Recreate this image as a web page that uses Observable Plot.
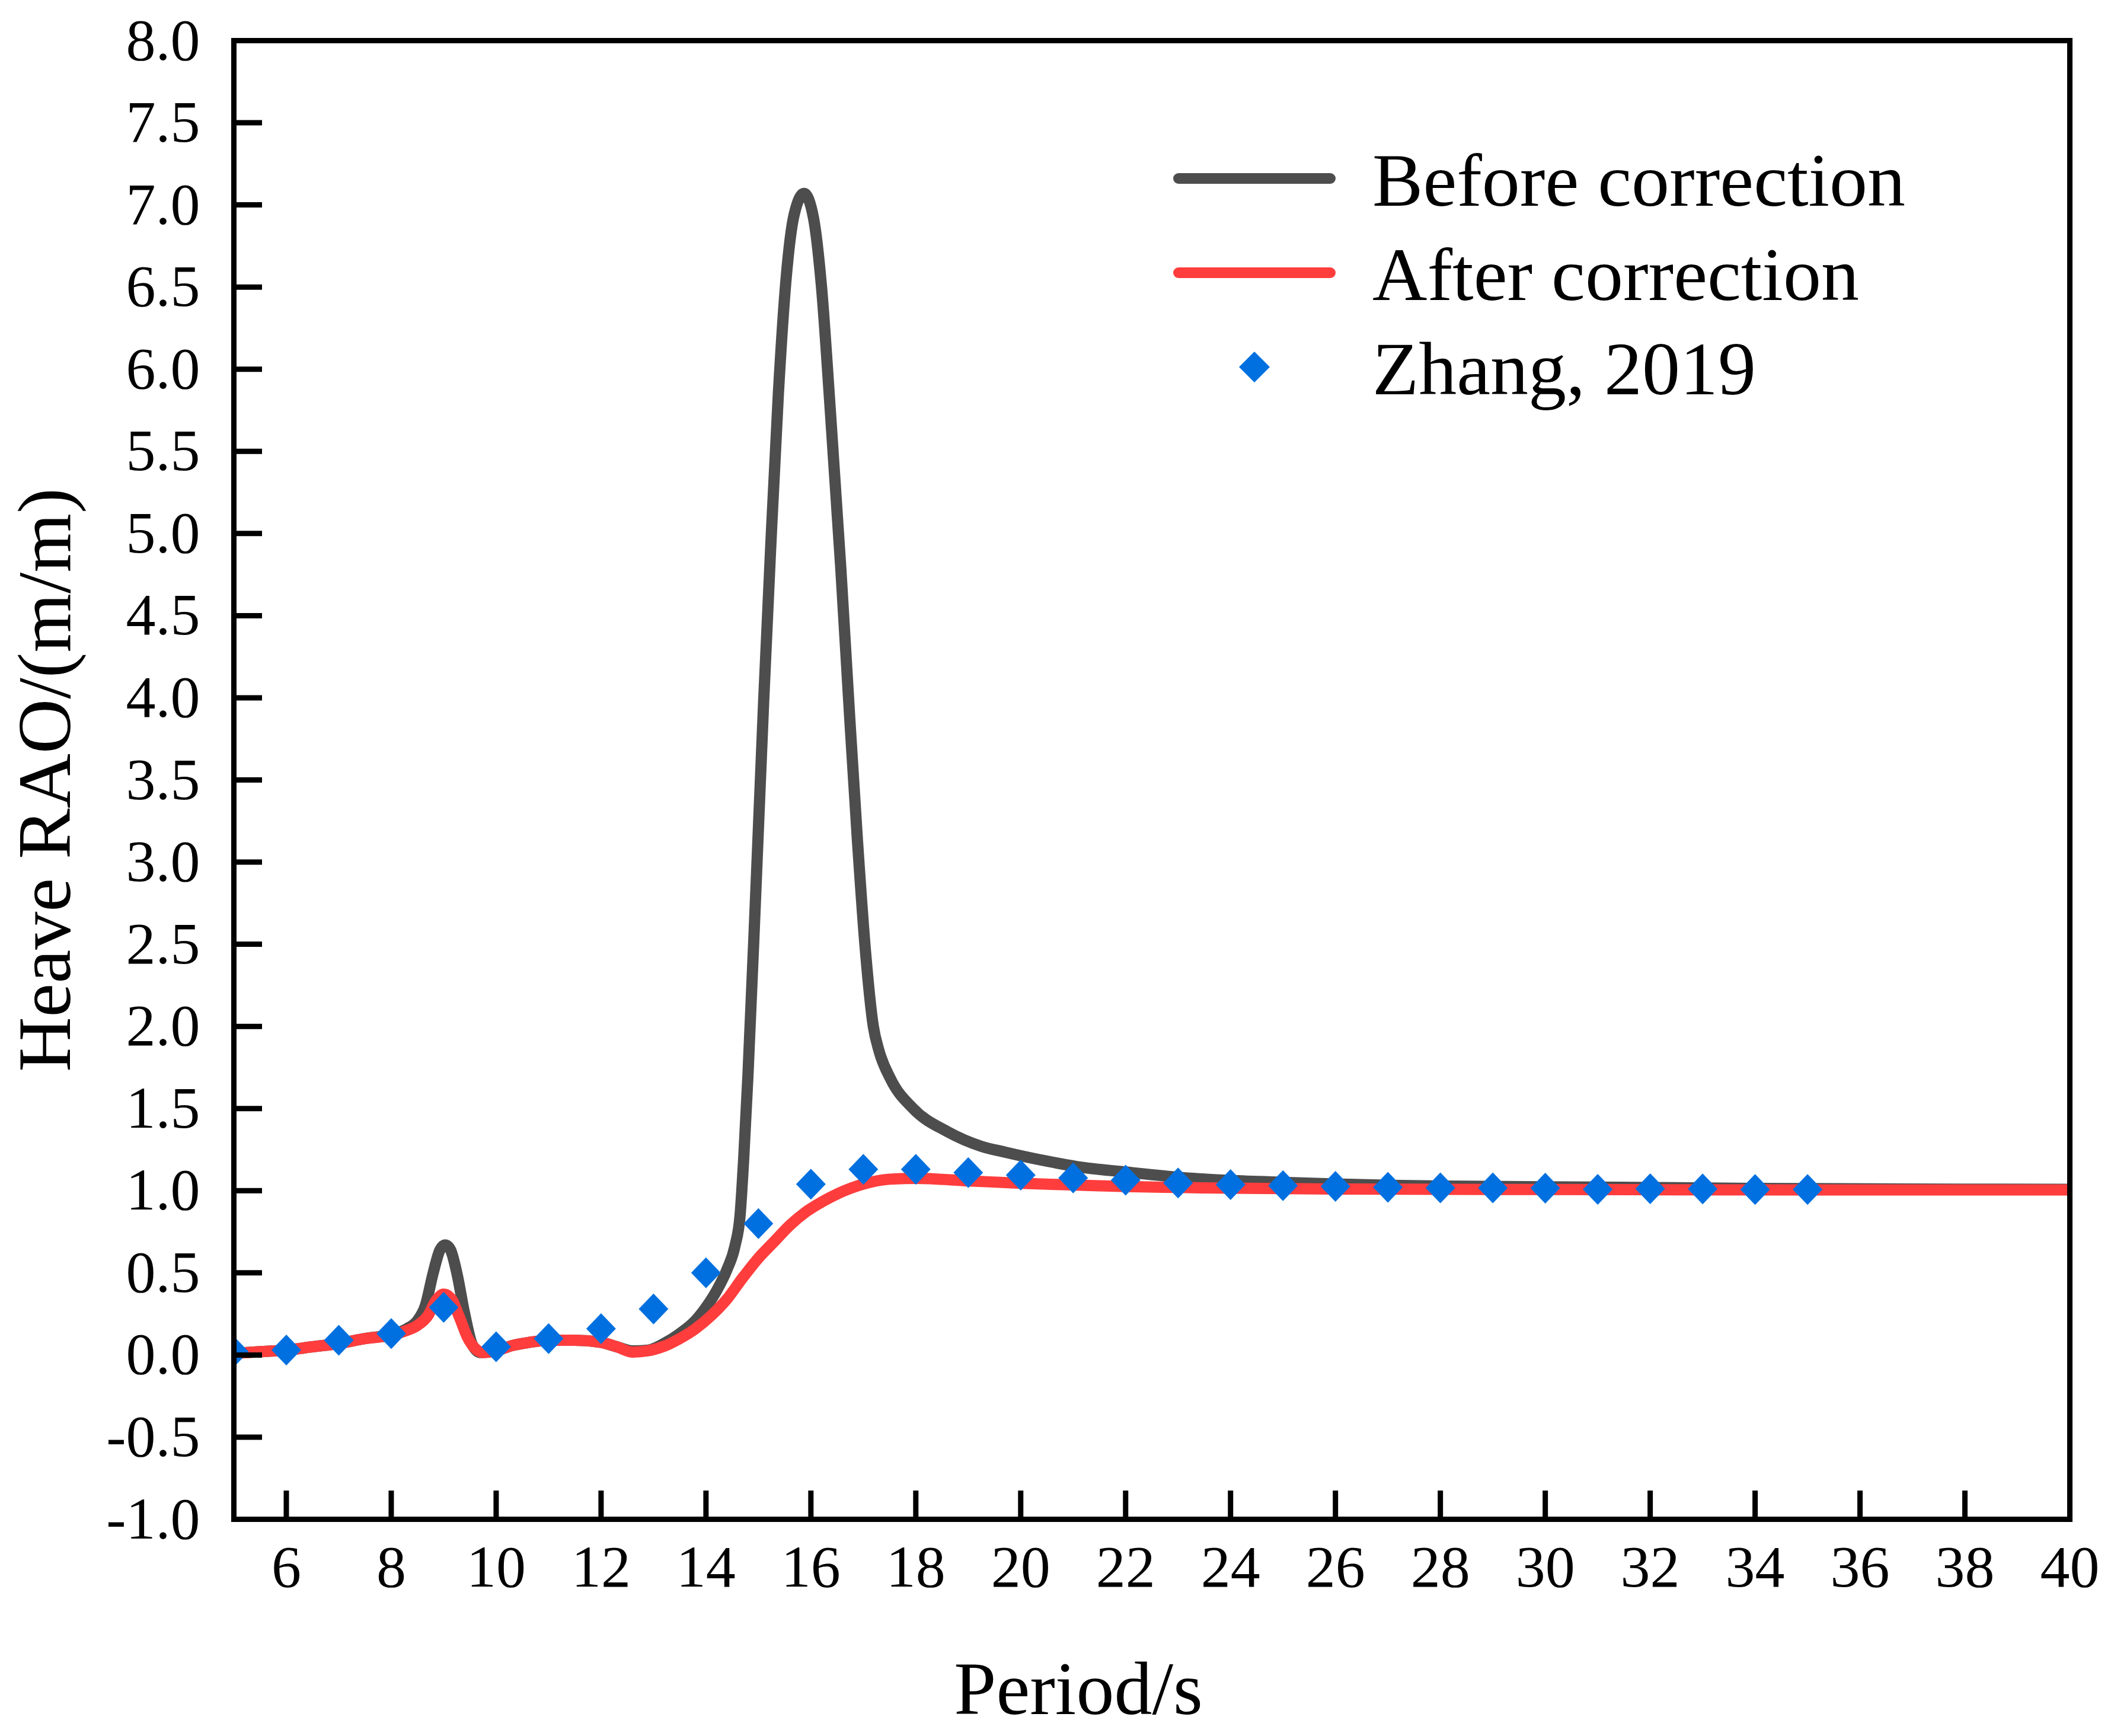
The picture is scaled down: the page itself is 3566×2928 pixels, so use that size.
<!DOCTYPE html>
<html>
<head>
<meta charset="utf-8">
<script src="https://cdn.jsdelivr.net/npm/d3@7"></script>
<script src="https://cdn.jsdelivr.net/npm/@observablehq/plot@0.6"></script>
<style>
  html, body { margin: 0; padding: 0; background: #fff; }
  #wrap { position: relative; width: 3566px; height: 2928px; }
  #legend { position: absolute; left: 0; top: 0; pointer-events: none; }
</style>
</head>
<body>
<div id="wrap"></div>
<script>
// ---- data ----
const periodBefore = [5, 5.5, 6, 6.5, 7, 7.5, 8, 8.3, 8.5, 8.65, 8.8, 8.93, 9.03, 9.13, 9.25, 9.4, 9.55, 9.7, 10, 10.3, 10.6, 11, 11.5, 12, 12.3, 12.6, 12.9, 13.2, 13.5, 13.8, 14.0, 14.2, 14.4, 14.55, 14.65, 14.72, 14.8, 14.95, 15.1, 15.23, 15.38, 15.53, 15.68, 15.87, 16.05, 16.2, 16.37, 16.57, 16.74, 16.89, 17.04, 17.19, 17.3, 17.52, 17.95, 18.6, 19.25, 19.7, 20.5, 21.07, 22.03, 23.08, 24, 25.1, 26.1, 27.06, 28.06, 31, 34, 37, 40];
const raoBefore = [0.01, 0.02, 0.03, 0.05, 0.07, 0.10, 0.125, 0.16, 0.21, 0.30, 0.50, 0.64, 0.67, 0.64, 0.50, 0.25, 0.06, 0.015, 0.026, 0.057, 0.075, 0.09, 0.09, 0.077, 0.05, 0.025, 0.03, 0.07, 0.13, 0.21, 0.29, 0.39, 0.52, 0.66, 0.85, 1.2, 1.7, 2.82, 3.98, 4.89, 5.85, 6.56, 6.94, 7.07, 6.92, 6.51, 5.75, 4.79, 3.88, 3.12, 2.46, 2.0, 1.85, 1.68, 1.50, 1.36, 1.27, 1.235, 1.18, 1.147, 1.113, 1.08, 1.062, 1.05, 1.04, 1.033, 1.028, 1.022, 1.014, 1.01, 1.008];

const periodAfter = [5, 5.5, 6, 6.5, 7, 7.5, 8, 8.3, 8.5, 8.7, 8.85, 9.0, 9.15, 9.3, 9.45, 9.6, 9.75, 10, 10.3, 10.6, 11, 11.5, 12, 12.3, 12.6, 12.9, 13.2, 13.5, 13.8, 14.1, 14.4, 14.7, 15, 15.3, 15.6, 15.9, 16.2, 16.5, 17, 17.5, 18, 19, 20, 21, 22, 23, 24, 26, 30, 35, 40];
const raoAfter = [0.01, 0.02, 0.03, 0.05, 0.07, 0.10, 0.12, 0.15, 0.18, 0.24, 0.33, 0.37, 0.34, 0.23, 0.11, 0.04, 0.015, 0.026, 0.057, 0.075, 0.09, 0.09, 0.077, 0.05, 0.018, 0.026, 0.053, 0.10, 0.16, 0.24, 0.34, 0.47, 0.59, 0.69, 0.79, 0.87, 0.93, 0.98, 1.04, 1.07, 1.075, 1.06, 1.045, 1.035, 1.025, 1.02, 1.015, 1.01, 1.007, 1.005, 1.005];

const periodZhang = [5, 6, 7, 8, 9, 10, 11, 12, 13, 14, 15, 16, 17, 18, 19, 20, 21, 22, 23, 24, 25, 26, 27, 28, 29, 30, 31, 32, 33, 34, 35];
const raoZhang = [0.02, 0.03, 0.09, 0.13, 0.29, 0.05, 0.10, 0.16, 0.28, 0.50, 0.80, 1.04, 1.13, 1.13, 1.11, 1.095, 1.078, 1.064, 1.047, 1.037, 1.031, 1.026, 1.021, 1.017, 1.017, 1.015, 1.008, 1.012, 1.011, 1.007, 1.007];

const seriesNames = ["Before correction", "After correction", "Zhang, 2019"];
const seriesColors = ["#4d4d4d", "#ff3d3d", "#0070e0"];

const xTickLabels = [6, 8, 10, 12, 14, 16, 18, 20, 22, 24, 26, 28, 30, 32, 34, 36, 38, 40];
const xTickMarks = [6, 8, 10, 12, 14, 16, 18, 20, 22, 24, 26, 28, 30, 32, 34, 36, 38];
const yTicks = [-1.0, -0.5, 0.0, 0.5, 1.0, 1.5, 2.0, 2.5, 3.0, 3.5, 4.0, 4.5, 5.0, 5.5, 6.0, 6.5, 7.0, 7.5, 8.0];
const xLabel = "Period/s";
const yLabel = "Heave RAO/(m/m)";

// ---- tables built from the arrays ----
const before = periodBefore.map((p, i) => ({period: p, rao: raoBefore[i]}));
const after = periodAfter.map((p, i) => ({period: p, rao: raoAfter[i]}));
const zhang = periodZhang.map((p, i) => ({period: p, rao: raoZhang[i]}));

// ---- layout ----
const W = 3566, H = 2928;
const mL = 394, mR = 75, mT = 68, mB = 366;
const plotW = W - mL - mR, plotH = H - mT - mB;
const tickLen = 48;
const font = "'Liberation Serif', 'Times New Roman', Times, serif";

// diamond symbol (half-width 25, half-height 26 when r = 20)
const diamond = {
  draw(context, size) {
    const r = Math.sqrt(size / Math.PI);
    const hw = r * 1.25, hh = r * 1.3;
    context.moveTo(0, -hh);
    context.lineTo(hw, 0);
    context.lineTo(0, hh);
    context.lineTo(-hw, 0);
    context.closePath();
  }
};

const chart = Plot.plot({
  width: W,
  height: H,
  marginLeft: mL,
  marginRight: mR,
  marginTop: mT,
  marginBottom: mB,
  x: {domain: [5, 40]},
  y: {domain: [-1, 8]},
  style: {fontFamily: font, background: "white", color: "black", overflow: "visible"},
  marks: [
    Plot.line(before, {x: "period", y: "rao", stroke: seriesColors[0], strokeWidth: 19, curve: "monotone-x", clip: true}),
    Plot.line(after, {x: "period", y: "rao", stroke: seriesColors[1], strokeWidth: 19, curve: "monotone-x", clip: true}),
    Plot.dot(zhang, {x: "period", y: "rao", symbol: diamond, r: 20, fill: seriesColors[2], stroke: "none", clip: true}),
    Plot.tickY(yTicks, {y: d => d, stroke: "black", strokeWidth: 9, insetRight: plotW - tickLen}),
    Plot.tickX(xTickMarks, {x: d => d, stroke: "black", strokeWidth: 9, insetTop: plotH - tickLen}),
    Plot.axisY(yTicks, {tickSize: 0, tickPadding: 57, fontSize: 100, tickFormat: d => d.toFixed(1), label: null}),
    Plot.axisX(xTickLabels, {tickSize: 0, tickPadding: 42, fontSize: 100, tickFormat: d => String(d), label: null}),
    Plot.frame({stroke: "black", strokeWidth: 9}),
    Plot.text([xLabel], {text: d => d, frameAnchor: "bottom", textAnchor: "middle", dx: -124, dy: 288, lineAnchor: "middle", fontSize: 128, fontFamily: font, fill: "black"}),
    Plot.text([yLabel], {text: d => d, frameAnchor: "left", textAnchor: "middle", rotate: -90, dx: -317, lineAnchor: "middle", fontSize: 128, fontFamily: font, fill: "black"})
  ]
});

const wrap = document.getElementById("wrap");
wrap.appendChild(chart);

// ---- legend overlay ----
const legendRows = [301, 460, 619];
const leg = d3.select(wrap).append("svg")
  .attr("id", "legend")
  .attr("width", W).attr("height", H)
  .style("font-family", font);

[0, 1].forEach(i => {
  leg.append("line")
    .attr("x1", 1988).attr("x2", 2244)
    .attr("y1", legendRows[i]).attr("y2", legendRows[i])
    .attr("stroke", seriesColors[i])
    .attr("stroke-width", 18)
    .attr("stroke-linecap", "round");
});
leg.append("path")
  .attr("transform", `translate(2116,${legendRows[2]})`)
  .attr("d", "M0,-26L26,0L0,26L-26,0Z")
  .attr("fill", seriesColors[2]);

seriesNames.forEach((name, i) => {
  leg.append("text")
    .attr("x", 2315)
    .attr("y", legendRows[i] + 46)
    .attr("font-size", 128)
    .attr("fill", "black")
    .text(name);
});
</script>
</body>
</html>
